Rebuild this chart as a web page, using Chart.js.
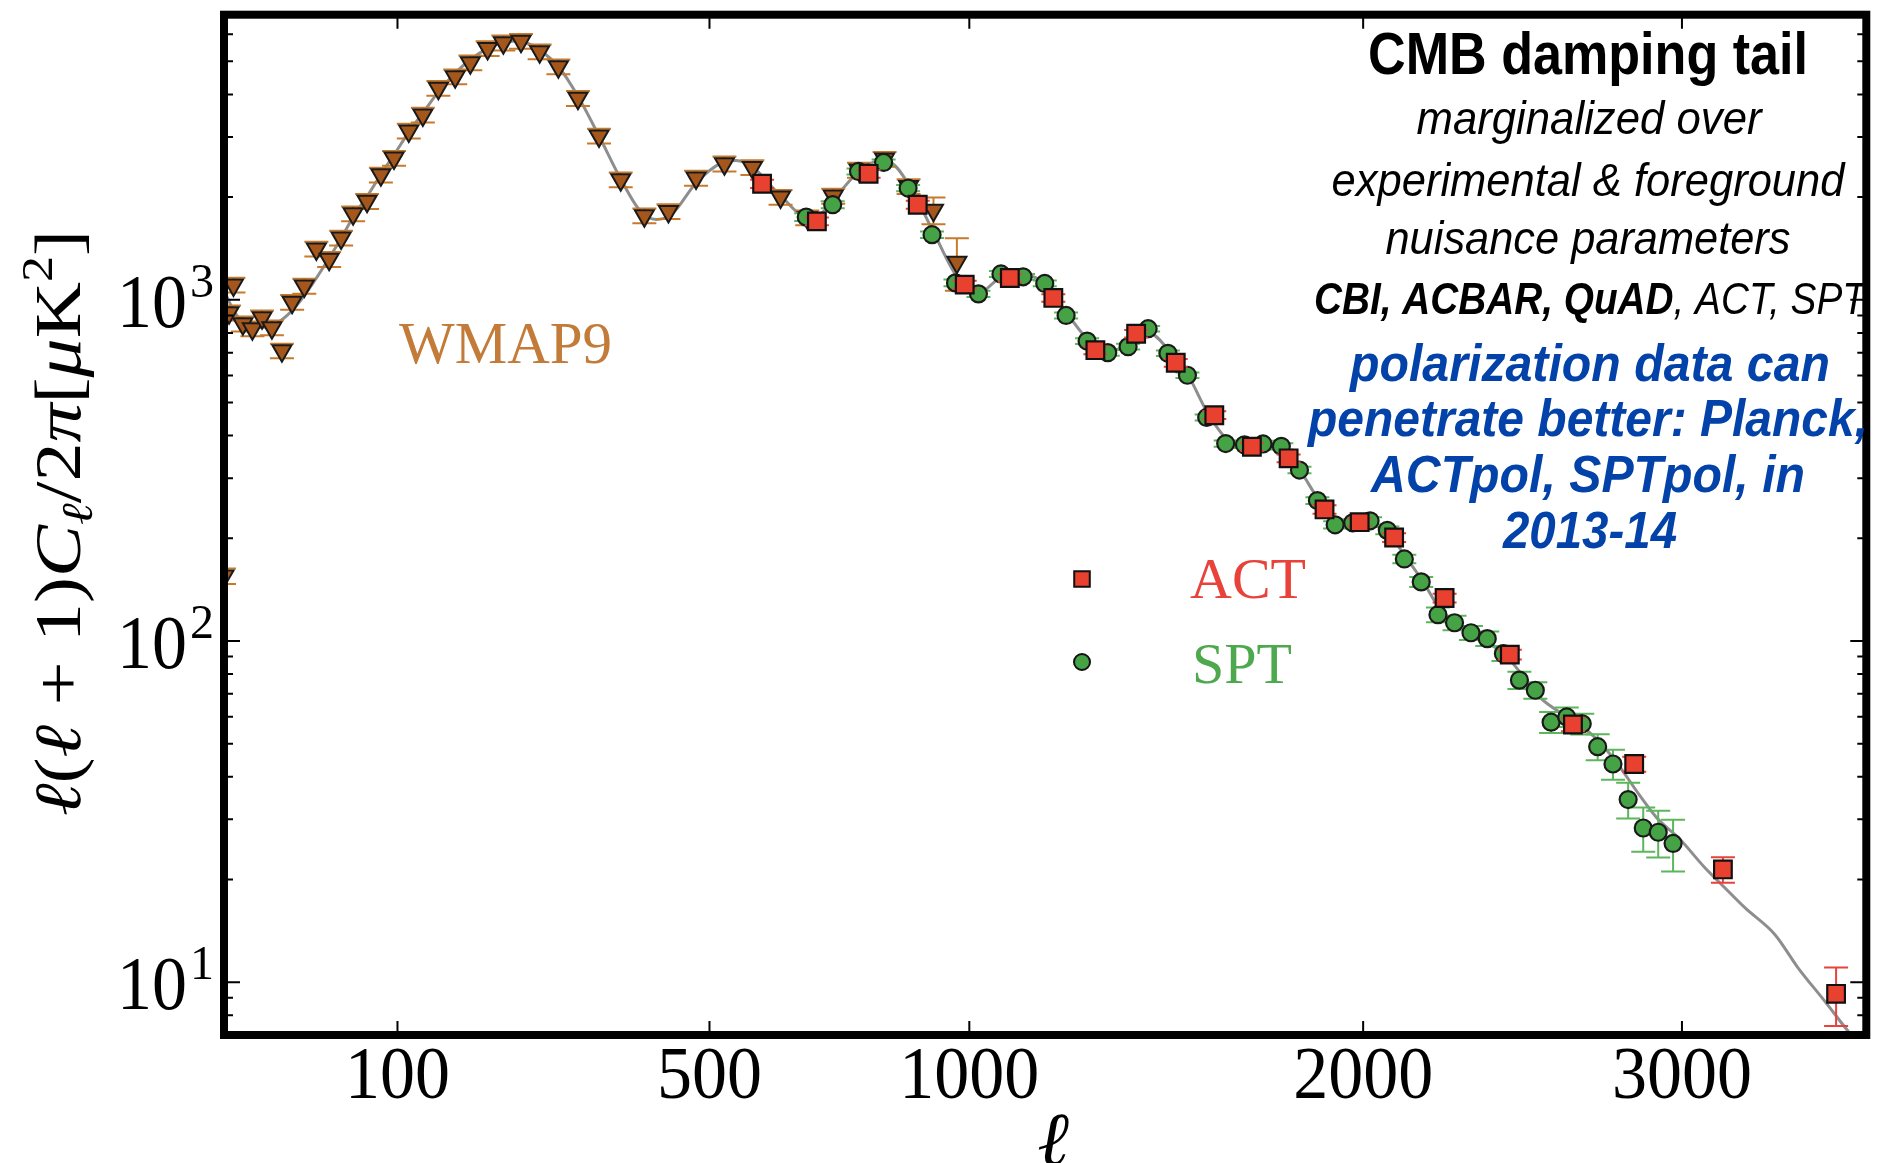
<!DOCTYPE html>
<html>
<head>
<meta charset="utf-8">
<title>CMB damping tail</title>
<script src="https://cdn.jsdelivr.net/npm/chart.js@4.4.1/dist/chart.umd.min.js"></script>
<style>
  html, body { margin: 0; padding: 0; background: #fff; }
  canvas { display: block; }
</style>
</head>
<body>
<canvas id="cmb" width="1881" height="1163"></canvas>
<script>
// ---- values ----
const xTicks   = [100, 500, 1000, 2000, 3000];
const yTicks   = [10, 100, 1000];
const yTickExp = ['1', '2', '3'];

// WMAP9 band powers (ell, D_ell in uK^2, +/- error)
const wmapEll = [2, 3, 4, 6.5, 9.5, 13, 17, 21.5, 26.5, 33, 40, 48, 56, 64.5, 75, 86, 97, 110, 123, 138,
                 155, 171, 190, 208, 229, 252, 276, 302, 331, 362, 397, 434, 478, 525, 573, 623, 672, 721,
                 771, 822, 871, 923, 973];
const wmapD   = [155, 916, 1106, 851, 823, 886, 828, 709, 984, 1097, 1409, 1314, 1518, 1787, 1944, 2324, 2602, 3126, 3482, 4169,
                 4508, 4955, 5456, 5666, 5729, 5335, 4823, 3896, 3021, 2248, 1764, 1816, 2274, 2504, 2444, 2000, 1740, 2014,
                 2400, 2585, 2150, 1830, 1289];
const wmapErr = [8, 46, 55, 43, 41, 44, 41, 35, 49, 55, 70, 66, 76, 89, 97, 116, 130, 156, 174, 208,
                 225, 248, 273, 283, 286, 267, 241, 195, 151, 112, 88, 91, 114, 125, 122, 100, 87, 101,
                 120, 129, 108, 165, 226];

// SPT band powers
const sptEll = [670, 720, 770, 820, 870, 920, 970, 1020, 1070, 1120, 1170, 1220, 1270, 1320, 1370, 1420,
                1470, 1520, 1570, 1620, 1670, 1720, 1770, 1820, 1870, 1920, 1970, 2020, 2070, 2120, 2170,
                2220, 2270, 2320, 2370, 2420, 2470, 2520, 2570, 2620, 2670, 2720, 2770, 2820, 2870, 2920, 2970];
const sptD   = [1748, 1900, 2378, 2527, 2126, 1552, 1121, 1041, 1191, 1168, 1117, 900, 757, 700, 729, 823,
                697, 601, 452, 379, 376, 378, 372, 317, 258, 219, 222, 225, 211, 174, 149,
                119.4, 113.1, 105.7, 101.6, 91.8, 76.8, 71.7, 57.8, 59.9, 57.2, 49.0, 43.6, 34.3, 28.3, 27.5, 25.5];
const sptErr = [45, 45, 50, 50, 45, 35, 25, 22, 24, 23, 22, 18, 15, 14, 14, 15,
                13, 11, 9, 8, 8, 8, 8, 7, 6, 5.5, 5.5, 5.5, 5.5, 5, 5,
                6, 5.5, 5, 5, 4.5, 4.5, 4, 4.1, 3.9, 4, 4.3, 4.4, 4.1, 4.2, 4.3, 4.4];

// ACT band powers
const actEll = [590, 690, 790, 890, 990, 1090, 1190, 1290, 1390, 1490, 1590, 1690, 1790, 1890, 1990, 2090,
                2240, 2440, 2640, 2840, 3140, 3540];
const actD   = [2188, 1698, 2340, 1900, 1108, 1159, 1013, 712, 795, 654, 459, 371, 343, 243, 223, 201,
                133.6, 91.2, 56.9, 43.6, 21.4, 9.24];
const actErr = [60, 45, 60, 50, 30, 30, 26, 19, 20, 17, 12, 10, 9, 7, 6, 6,
                4, 3, 2.5, 2.2, 1.85, 1.8];

// best-fit model curve (grey line)
const theoryEll = [2, 3, 4, 6, 9, 13, 18, 24, 30, 37, 45, 55, 65, 75, 86, 97, 110, 123, 138, 155, 172, 190, 208,
                   222, 236, 252, 276, 302, 331, 362, 390, 415, 440, 478, 520, 545, 573, 623, 672, 700, 721, 771,
                   810, 835, 871, 923, 973, 1022, 1069, 1124, 1172, 1223, 1272, 1322, 1372, 1422, 1473, 1522,
                   1573, 1624, 1680, 1723, 1773, 1822, 1871, 1922, 1975, 2024, 2074, 2123, 2174, 2224, 2272,
                   2324, 2374, 2440, 2537, 2620, 2703, 2774, 2857, 2920, 2990, 3079, 3136, 3217, 3321, 3404,
                   3499, 3589, 3650];
const theoryD   = [1060, 990, 930, 870, 835, 830, 845, 900, 980, 1100, 1260, 1490, 1760, 2010, 2330, 2660, 3100,
                   3530, 4070, 4620, 5080, 5460, 5680, 5740, 5660, 5400, 4830, 3950, 3020, 2260, 1830, 1720,
                   1790, 2200, 2520, 2560, 2450, 2020, 1750, 1800, 1960, 2380, 2550, 2520, 2180, 1580, 1170,
                   1050, 1160, 1180, 1110, 910, 765, 705, 740, 800, 710, 600, 465, 390, 372, 374, 360, 315,
                   262, 226, 217, 218, 206, 177, 150, 125, 113, 106, 99, 88, 68, 60, 53, 45, 35.4, 30, 26.4,
                   21.6, 19.3, 16.5, 13.8, 11.0, 8.8, 7.1, 6.3];

// x axis of the figure is stretched like ell^0.6
const X_POWER = 0.6;

class PowerScale extends Chart.Scale {
  static id = 'power';
  static defaults = {};

  determineDataLimits() {
    this.min = this.options.min;
    this.max = this.options.max;
  }
  buildTicks() {
    return xTicks.map(v => ({ value: v }));
  }
  getLabelForValue(v) {
    return String(v);
  }
  configure() {
    super.configure();
    this._startValue = Math.pow(this.min, X_POWER);
    this._valueRange = Math.pow(this.max, X_POWER) - this._startValue;
  }
  getPixelForValue(v) {
    if (v === undefined || v === null || isNaN(v)) return NaN;
    return this.getPixelForDecimal((Math.pow(v, X_POWER) - this._startValue) / this._valueRange);
  }
  getValueForPixel(px) {
    const d = this.getDecimalForPixel(px);
    return Math.pow(this._startValue + d * this._valueRange, 1 / X_POWER);
  }
}
Chart.register(PowerScale);

const toPoints = (ells, vals) => ells.map((l, i) => ({ x: l, y: vals[i] }));

const SERIF = '"Liberation Serif", "Times New Roman", serif';
const SANS  = '"Liberation Sans", Arial, sans-serif';

// draw a row of differently styled pieces of text, squeezed to fitWidth
function drawRuns(ctx, runs, x, y, fitWidth) {
  const widths = runs.map(r => { ctx.font = r[1]; return ctx.measureText(r[0]).width; });
  const total  = widths.reduce((a, b) => a + b, 0);
  const sx = fitWidth ? fitWidth / total : 1;
  ctx.save();
  ctx.translate(x, y);
  ctx.scale(sx, 1);
  ctx.textAlign = 'left';
  ctx.textBaseline = 'alphabetic';
  let cx = -total / 2;
  runs.forEach((r, i) => {
    ctx.font = r[1];
    if (r[3]) ctx.fillStyle = r[3];
    ctx.fillText(r[0], cx, r[2] || 0);
    cx += widths[i];
  });
  ctx.restore();
}

const whiteBg = {
  id: 'whiteBg',
  beforeDraw(chart) {
    const { ctx, width, height } = chart;
    ctx.save();
    ctx.fillStyle = '#fff';
    ctx.fillRect(0, 0, width, height);
    ctx.restore();
  }
};

const errorBars = {
  id: 'errorBars',
  beforeDatasetDraw(chart, args) {
    const ds = chart.data.datasets[args.index];
    if (!ds.err) return;
    const { ctx, chartArea: a, scales: { x, y } } = chart;
    ctx.save();
    ctx.beginPath();
    ctx.rect(a.left, a.top, a.right - a.left, a.bottom - a.top);
    ctx.clip();
    ctx.strokeStyle = ds.errColor;
    ctx.lineWidth = 2;
    ds.data.forEach((p, i) => {
      const px = x.getPixelForValue(p.x);
      const hi = y.getPixelForValue(p.y + ds.err[i]);
      const lo = y.getPixelForValue(p.y - ds.err[i]);
      ctx.beginPath();
      ctx.moveTo(px, hi); ctx.lineTo(px, lo);
      ctx.moveTo(px - 12, hi); ctx.lineTo(px + 12, hi);
      ctx.moveTo(px - 12, lo); ctx.lineTo(px + 12, lo);
      ctx.stroke();
    });
    ctx.restore();
  }
};

const decorations = {
  id: 'decorations',
  afterDraw(chart) {
    const { ctx, chartArea: a, scales: { x, y } } = chart;
    ctx.save();

    // ticks pointing inwards on all four sides
    ctx.strokeStyle = '#000';
    ctx.lineWidth = 2;
    ctx.beginPath();
    xTicks.forEach(v => {
      const px = x.getPixelForValue(v);
      ctx.moveTo(px, a.bottom); ctx.lineTo(px, a.bottom - 14);
      ctx.moveTo(px, a.top);    ctx.lineTo(px, a.top + 14);
    });
    for (let dec = 1; dec <= 1000; dec *= 10) {
      for (let m = 1; m <= 9; m++) {
        const v = m * dec;
        if (v < y.min || v > y.max) continue;
        const py = y.getPixelForValue(v);
        const len = m === 1 ? 16 : 9;
        ctx.moveTo(a.left, py);  ctx.lineTo(a.left + len, py);
        ctx.moveTo(a.right, py); ctx.lineTo(a.right - len, py);
      }
    }
    ctx.stroke();

    // heavy frame
    ctx.lineWidth = 8;
    ctx.strokeRect(a.left, a.top, a.right - a.left, a.bottom - a.top);

    // x tick labels
    ctx.fillStyle = '#000';
    ctx.textAlign = 'center';
    ctx.textBaseline = 'alphabetic';
    xTicks.forEach(v => {
      ctx.save();
      ctx.translate(x.getPixelForValue(v), a.bottom + 63);
      ctx.scale(1, 1.07);
      ctx.font = '70px ' + SERIF;
      ctx.fillText(String(v), 0, 0);
      ctx.restore();
    });

    // y tick labels 10^n
    yTicks.forEach((v, i) => {
      const py = y.getPixelForValue(v);
      ctx.save();
      ctx.translate(187, py + 27);
      ctx.scale(1, 1.1);
      ctx.font = '70px ' + SERIF;
      ctx.textAlign = 'right';
      ctx.fillText('10', 0, 0);
      ctx.restore();
      ctx.font = '48px ' + SERIF;
      ctx.textAlign = 'left';
      ctx.fillText(yTickExp[i], 190, py - 3);
    });

    // axis titles
    ctx.fillStyle = '#000';
    ctx.save();
    ctx.translate(80, 523);
    ctx.rotate(-Math.PI / 2);
    const I = 'italic 66px ' + SERIF, R = '66px ' + SERIF;
    drawRuns(ctx, [
      ['ℓ', I], ['(', R], ['ℓ', I], [' + 1)', R], ['C', I], ['ℓ', 'italic 44px ' + SERIF, 12],
      ['/2', R], ['π', I], ['[', R], ['μ', I], ['K', R], ['2', '44px ' + SERIF, -28], [']', R]
    ], 0, 0, 586);
    ctx.restore();

    ctx.font = 'italic 76px ' + SERIF;
    ctx.textAlign = 'center';
    ctx.fillText('ℓ', 1053, 1165);

    // WMAP9 label
    ctx.fillStyle = '#c27b38';
    ctx.font = '59px ' + SERIF;
    ctx.textAlign = 'left';
    ctx.fillText('WMAP9', 399, 363);

    // legend
    ctx.strokeStyle = '#111';
    ctx.lineWidth = 2;
    ctx.fillStyle = '#e8412f';
    Chart.helpers.drawPoint(ctx, { pointStyle: 'rect', radius: 11, borderWidth: 2 }, 1082, 579);
    ctx.fillStyle = '#45a345';
    Chart.helpers.drawPoint(ctx, { pointStyle: 'circle', radius: 8, borderWidth: 2 }, 1082, 662);
    ctx.font = '58px ' + SERIF;
    ctx.fillStyle = '#e8423a';
    ctx.fillText('ACT', 1190, 598);
    ctx.fillStyle = '#4ea84e';
    ctx.fillText('SPT', 1192, 683);

    // annotation block
    const BLUE = '#0342a8';
    const lines = [
      { runs: [['CMB damping tail', 'bold 60px ' + SANS, 0, '#000']], cx: 1588, base: 74, w: 440 },
      { runs: [['marginalized over', 'italic 47px ' + SANS, 0, '#000']], cx: 1589, base: 134, w: 345 },
      { runs: [['experimental & foreground', 'italic 47px ' + SANS, 0, '#000']], cx: 1588, base: 196, w: 513 },
      { runs: [['nuisance parameters', 'italic 47px ' + SANS, 0, '#000']], cx: 1588, base: 254, w: 405 },
      { runs: [['CBI, ACBAR, QuAD', 'bold italic 44px ' + SANS, 0, '#000'],
               [', ACT, SPT', 'italic 44px ' + SANS, 0, '#000']], cx: 1590, base: 314, w: 552 },
      { runs: [['polarization data can', 'bold italic 52px ' + SANS, 0, BLUE]], cx: 1590, base: 381, w: 480 },
      { runs: [['penetrate better: Planck,', 'bold italic 52px ' + SANS, 0, BLUE]], cx: 1588, base: 436, w: 560 },
      { runs: [['ACTpol, SPTpol, in', 'bold italic 52px ' + SANS, 0, BLUE]], cx: 1588, base: 492, w: 434 },
      { runs: [['2013-14', 'bold italic 52px ' + SANS, 0, BLUE]], cx: 1590, base: 548, w: 174 }
    ];
    lines.forEach(l => drawRuns(ctx, l.runs, l.cx, l.base, l.w));

    ctx.restore();
  }
};

new Chart(document.getElementById('cmb'), {
  type: 'scatter',
  data: {
    datasets: [
      {
        label: 'ACT',
        data: toPoints(actEll, actD),
        err: actErr,
        errColor: '#e8433a',
        pointStyle: 'rect',
        pointRadius: 12.5,
        pointBackgroundColor: '#e8412f',
        pointBorderColor: '#111',
        pointBorderWidth: 2.2,
        order: 0
      },
      {
        label: 'SPT',
        data: toPoints(sptEll, sptD),
        err: sptErr,
        errColor: '#5cb65c',
        pointStyle: 'circle',
        pointRadius: 8.5,
        pointBackgroundColor: '#45a345',
        pointBorderColor: '#1a1a1a',
        pointBorderWidth: 2.2,
        order: 1
      },
      {
        label: 'WMAP9',
        data: toPoints(wmapEll, wmapD),
        err: wmapErr,
        errColor: '#c87a2c',
        pointStyle: 'triangle',
        pointRotation: 180,
        pointRadius: 11,
        pointBackgroundColor: '#a5561b',
        pointBorderColor: '#1a1a1a',
        pointBorderWidth: 2,
        order: 2
      },
      {
        label: 'model',
        type: 'line',
        data: toPoints(theoryEll, theoryD),
        borderColor: '#8e8e8e',
        borderWidth: 3,
        pointRadius: 0,
        cubicInterpolationMode: 'monotone',
        fill: false,
        order: 3
      }
    ]
  },
  options: {
    responsive: false,
    animation: false,
    layout: { padding: { left: 224, right: 6, top: 11, bottom: 128 } },
    scales: {
      x: { type: 'power', min: 2, max: 3650, display: false },
      y: { type: 'logarithmic', min: 7, max: 6850, display: false }
    },
    plugins: {
      legend: { display: false },
      tooltip: { enabled: false }
    }
  },
  plugins: [whiteBg, errorBars, decorations]
});
</script>
</body>
</html>
